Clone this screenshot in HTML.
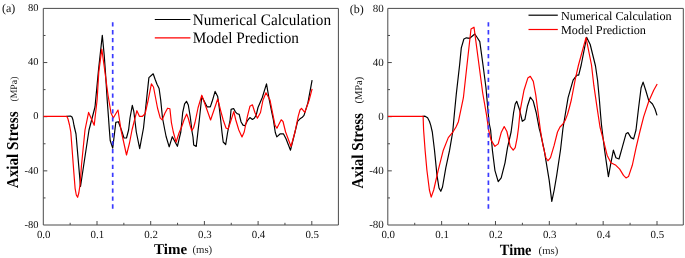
<!DOCTYPE html>
<html><head><meta charset="utf-8"><title>Axial Stress</title>
<style>
html,body{margin:0;padding:0;background:#fff;overflow:hidden}
svg{display:block;filter:blur(0.35px)}
text{font-family:"Liberation Serif","Times New Roman",serif;fill:#111;text-rendering:geometricPrecision}
.tk{font-size:10.5px}
.tag{font-size:12px}
.ax{font-size:15px;font-weight:bold;fill:#000}
.un{font-size:10px;font-weight:normal;fill:#222}
.lg{fill:#000}
</style></head><body>
<svg width="685" height="258" viewBox="0 0 685 258">
<rect width="685" height="258" fill="#fff"/>
<path d="M43.3 8.4H338.4V225.0H43.3Z" fill="none" stroke="#4a4a4a" stroke-width="1"/>
<text x="38.4" y="227.70" text-anchor="end" class="tk" style="font-size:10.5px">-80</text>
<line x1="43.3" y1="197.93" x2="45.5" y2="197.93" stroke="#4a4a4a" stroke-width="1"/>
<line x1="43.3" y1="170.85" x2="47.3" y2="170.85" stroke="#4a4a4a" stroke-width="1"/>
<text x="38.4" y="173.55" text-anchor="end" class="tk" style="font-size:10.5px">-40</text>
<line x1="43.3" y1="143.78" x2="45.5" y2="143.78" stroke="#4a4a4a" stroke-width="1"/>
<line x1="43.3" y1="116.70" x2="47.3" y2="116.70" stroke="#4a4a4a" stroke-width="1"/>
<text x="38.4" y="119.40" text-anchor="end" class="tk" style="font-size:10.5px">0</text>
<line x1="43.3" y1="89.62" x2="45.5" y2="89.62" stroke="#4a4a4a" stroke-width="1"/>
<line x1="43.3" y1="62.55" x2="47.3" y2="62.55" stroke="#4a4a4a" stroke-width="1"/>
<text x="38.4" y="65.25" text-anchor="end" class="tk" style="font-size:10.5px">40</text>
<line x1="43.3" y1="35.48" x2="45.5" y2="35.48" stroke="#4a4a4a" stroke-width="1"/>
<text x="38.4" y="11.10" text-anchor="end" class="tk" style="font-size:10.5px">80</text>
<text x="43.70" y="237.7" text-anchor="middle" class="tk" style="font-size:10.9px">0.0</text>
<line x1="70.15" y1="225.0" x2="70.15" y2="222.8" stroke="#4a4a4a" stroke-width="1"/>
<line x1="97.00" y1="225.0" x2="97.00" y2="221.0" stroke="#4a4a4a" stroke-width="1"/>
<text x="97.40" y="237.7" text-anchor="middle" class="tk" style="font-size:10.9px">0.1</text>
<line x1="123.85" y1="225.0" x2="123.85" y2="222.8" stroke="#4a4a4a" stroke-width="1"/>
<line x1="150.70" y1="225.0" x2="150.70" y2="221.0" stroke="#4a4a4a" stroke-width="1"/>
<text x="151.10" y="237.7" text-anchor="middle" class="tk" style="font-size:10.9px">0.2</text>
<line x1="177.55" y1="225.0" x2="177.55" y2="222.8" stroke="#4a4a4a" stroke-width="1"/>
<line x1="204.40" y1="225.0" x2="204.40" y2="221.0" stroke="#4a4a4a" stroke-width="1"/>
<text x="204.80" y="237.7" text-anchor="middle" class="tk" style="font-size:10.9px">0.3</text>
<line x1="231.25" y1="225.0" x2="231.25" y2="222.8" stroke="#4a4a4a" stroke-width="1"/>
<line x1="258.10" y1="225.0" x2="258.10" y2="221.0" stroke="#4a4a4a" stroke-width="1"/>
<text x="258.50" y="237.7" text-anchor="middle" class="tk" style="font-size:10.9px">0.4</text>
<line x1="284.95" y1="225.0" x2="284.95" y2="222.8" stroke="#4a4a4a" stroke-width="1"/>
<line x1="311.80" y1="225.0" x2="311.80" y2="221.0" stroke="#4a4a4a" stroke-width="1"/>
<text x="312.20" y="237.7" text-anchor="middle" class="tk" style="font-size:10.9px">0.5</text>
<text x="2" y="12" class="tag">(a)</text>
<line x1="154.8" y1="19.5" x2="190.4" y2="19.5" stroke="#000" stroke-width="1.2"/>
<line x1="154.8" y1="37.9" x2="190.4" y2="37.9" stroke="#f00" stroke-width="1.2"/>
<text transform="translate(192.7 24.9) scale(0.952 1)" style="font-size:16px" class="lg">Numerical Calculation</text>
<text transform="translate(192.7 42.9) scale(0.952 1)" style="font-size:16px" class="lg">Model Prediction</text>
<text transform="translate(17.7 188.3) rotate(-90) scale(0.916 1)" class="ax" style="font-size:16.6px">Axial Stress</text>
<text transform="translate(16.6 101.6) rotate(-90)" class="un" style="font-size:9.8px">(MPa)</text>
<text transform="translate(154 253.7) scale(1 1)" class="ax" style="font-size:15px">Time</text>
<text x="192.4" y="253.3" class="un" style="font-size:10.8px">(ms)</text>
<polyline points="66.5,116.3 70.5,116.0 72.0,117.0 73.0,120.0 74.0,125.5 76.0,134.0 80.5,186.5 89.0,130.0 95.0,107.0 98.5,70.0 102.3,35.3 104.2,55.0 105.5,73.0 107.2,100.0 108.4,116.3 109.3,129.0 110.2,140.5 112.7,148.1 114.9,130.0 115.8,122.4 118.4,121.7 121.4,130.0 124.0,138.0 126.5,138.0 128.6,130.0 130.0,118.0 132.3,105.3 133.8,111.5 135.0,121.3 136.3,132.0 139.7,148.7 143.5,128.0 148.9,77.6 153.2,73.8 155.1,79.3 157.0,84.3 159.1,88.5 160.7,100.0 162.5,118.0 164.8,130.0 166.1,136.5 169.2,146.8 172.3,136.7 177.4,146.3 180.8,132.0 182.7,112.5 184.6,103.8 186.5,101.3 188.3,105.0 190.2,116.3 192.1,132.0 193.0,137.0 193.7,144.9 196.2,146.5 197.4,136.5 199.3,120.0 201.8,96.5 207.2,106.9 210.3,106.9 212.2,101.3 215.1,91.4 217.7,96.5 219.3,108.0 220.7,120.0 222.0,132.5 223.2,142.0 225.7,144.5 227.6,132.5 230.1,120.0 231.1,109.4 233.6,108.5 235.4,111.9 237.3,113.8 239.2,114.4 241.1,122.0 243.0,125.1 244.9,125.7 247.4,120.7 249.9,117.6 252.4,119.4 254.3,118.2 256.2,115.1 258.0,107.5 262.2,97.7 266.5,83.9 269.3,100.0 271.8,112.5 273.4,120.0 275.3,132.5 276.8,136.9 280.3,133.8 283.4,133.8 286.0,138.8 290.5,150.2 295.0,132.0 297.6,121.3 300.0,118.8 302.0,117.6 304.0,115.4 307.9,102.8 312.1,80.1" fill="none" stroke="#000" stroke-width="1.18" stroke-linejoin="round"/>
<polyline points="43.5,116.3 66.8,116.3 68.0,119.0 69.5,125.0 70.8,132.0 73.8,172.0 75.1,188.3 76.3,195.0 77.6,197.3 78.8,193.0 80.1,184.5 81.5,165.0 85.0,130.0 88.6,112.4 94.2,125.3 97.1,100.0 98.8,72.0 101.8,49.0 104.0,65.0 108.0,95.0 111.0,113.0 113.3,118.0 118.0,110.0 121.0,130.0 126.5,155.0 129.5,143.0 132.0,130.0 136.9,110.7 139.4,116.3 142.5,116.3 145.1,113.8 148.2,100.0 151.4,83.9 153.5,87.0 157.5,108.0 160.2,117.9 162.2,119.9 165.0,113.0 167.6,108.2 169.9,108.8 171.4,122.6 173.3,132.0 176.1,142.2 179.0,133.0 181.6,127.0 184.0,120.0 186.7,114.1 188.5,119.0 190.0,125.0 191.7,130.6 193.5,128.0 195.0,122.5 198.0,108.0 201.8,95.2 206.0,107.0 210.6,120.0 214.0,110.0 217.7,99.0 221.0,112.0 223.2,120.0 226.0,128.0 228.0,129.0 229.5,125.0 233.8,111.6 235.8,120.0 238.8,130.0 242.0,137.0 244.2,132.0 247.4,116.3 249.9,106.3 252.4,104.8 254.9,112.5 257.4,118.2 260.5,112.5 263.0,100.0 266.0,92.7 270.0,100.0 272.5,112.5 275.0,125.1 276.9,128.2 281.2,119.8 283.0,121.5 285.6,132.0 291.0,146.5 295.0,132.0 298.2,116.3 300.0,110.0 301.5,108.3 304.8,112.4 309.1,100.3 312.1,88.9" fill="none" stroke="#f00" stroke-width="1.18" stroke-linejoin="round"/>
<line x1="112.7" y1="22.2" x2="112.7" y2="208.7" stroke="#3a3aff" stroke-width="1.7" stroke-dasharray="4.3 3.62"/>
<path d="M387.8 8.4H683.3V225.0H387.8Z" fill="none" stroke="#4a4a4a" stroke-width="1"/>
<text x="383.8" y="228.20" text-anchor="end" class="tk" style="font-size:11px">-80</text>
<line x1="387.8" y1="197.93" x2="390.0" y2="197.93" stroke="#4a4a4a" stroke-width="1"/>
<line x1="387.8" y1="170.85" x2="391.8" y2="170.85" stroke="#4a4a4a" stroke-width="1"/>
<text x="383.8" y="174.05" text-anchor="end" class="tk" style="font-size:11px">-40</text>
<line x1="387.8" y1="143.78" x2="390.0" y2="143.78" stroke="#4a4a4a" stroke-width="1"/>
<line x1="387.8" y1="116.70" x2="391.8" y2="116.70" stroke="#4a4a4a" stroke-width="1"/>
<text x="383.8" y="119.90" text-anchor="end" class="tk" style="font-size:11px">0</text>
<line x1="387.8" y1="89.62" x2="390.0" y2="89.62" stroke="#4a4a4a" stroke-width="1"/>
<line x1="387.8" y1="62.55" x2="391.8" y2="62.55" stroke="#4a4a4a" stroke-width="1"/>
<text x="383.8" y="65.75" text-anchor="end" class="tk" style="font-size:11px">40</text>
<line x1="387.8" y1="35.48" x2="390.0" y2="35.48" stroke="#4a4a4a" stroke-width="1"/>
<text x="383.8" y="11.60" text-anchor="end" class="tk" style="font-size:11px">80</text>
<text x="388.20" y="237.7" text-anchor="middle" class="tk" style="font-size:10.9px">0.0</text>
<line x1="414.72" y1="225.0" x2="414.72" y2="222.8" stroke="#4a4a4a" stroke-width="1"/>
<line x1="441.64" y1="225.0" x2="441.64" y2="221.0" stroke="#4a4a4a" stroke-width="1"/>
<text x="442.04" y="237.7" text-anchor="middle" class="tk" style="font-size:10.9px">0.1</text>
<line x1="468.56" y1="225.0" x2="468.56" y2="222.8" stroke="#4a4a4a" stroke-width="1"/>
<line x1="495.48" y1="225.0" x2="495.48" y2="221.0" stroke="#4a4a4a" stroke-width="1"/>
<text x="495.88" y="237.7" text-anchor="middle" class="tk" style="font-size:10.9px">0.2</text>
<line x1="522.40" y1="225.0" x2="522.40" y2="222.8" stroke="#4a4a4a" stroke-width="1"/>
<line x1="549.32" y1="225.0" x2="549.32" y2="221.0" stroke="#4a4a4a" stroke-width="1"/>
<text x="549.72" y="237.7" text-anchor="middle" class="tk" style="font-size:10.9px">0.3</text>
<line x1="576.24" y1="225.0" x2="576.24" y2="222.8" stroke="#4a4a4a" stroke-width="1"/>
<line x1="603.16" y1="225.0" x2="603.16" y2="221.0" stroke="#4a4a4a" stroke-width="1"/>
<text x="603.56" y="237.7" text-anchor="middle" class="tk" style="font-size:10.9px">0.4</text>
<line x1="630.08" y1="225.0" x2="630.08" y2="222.8" stroke="#4a4a4a" stroke-width="1"/>
<line x1="657.00" y1="225.0" x2="657.00" y2="221.0" stroke="#4a4a4a" stroke-width="1"/>
<text x="657.40" y="237.7" text-anchor="middle" class="tk" style="font-size:10.9px">0.5</text>
<text x="349.8" y="12.9" class="tag">(b)</text>
<line x1="528.5" y1="15.2" x2="557.8" y2="15.2" stroke="#000" stroke-width="1.2"/>
<line x1="528.5" y1="29.5" x2="557.8" y2="29.5" stroke="#f00" stroke-width="1.2"/>
<text transform="translate(561 19.5) scale(1 1)" style="font-size:12.2px" class="lg">Numerical Calculation</text>
<text transform="translate(561 34.0) scale(1 1)" style="font-size:12.2px" class="lg">Model Prediction</text>
<text transform="translate(363.3 188.5) rotate(-90) scale(0.897 1)" class="ax" style="font-size:16.6px">Axial Stress</text>
<text transform="translate(362 103.6) rotate(-90)" class="un" style="font-size:10.5px">(MPa)</text>
<text transform="translate(499.8 255.3) scale(0.917 1)" class="ax" style="font-size:15.7px">Time</text>
<text x="538.6" y="254" class="un" style="font-size:10.7px">(ms)</text>
<polyline points="422.5,116.3 425.0,116.2 427.6,117.8 429.5,121.5 430.7,125.1 432.3,132.0 434.5,150.2 437.0,175.4 439.0,188.0 440.8,191.3 442.5,187.0 445.8,167.8 449.6,150.2 452.7,132.0 454.5,112.5 456.3,94.0 459.6,65.0 461.3,47.9 463.9,39.0 466.4,37.8 469.7,38.3 474.8,34.0 477.3,37.8 479.8,41.6 483.0,65.0 486.0,88.0 489.1,123.0 490.6,130.0 492.4,150.2 494.9,170.3 498.2,181.7 501.2,177.9 505.0,162.8 507.5,147.7 511.1,132.0 513.6,112.5 515.2,104.0 516.7,101.3 519.7,110.3 522.3,121.3 524.9,119.4 527.4,106.3 530.3,97.2 533.2,101.0 536.2,112.5 539.3,128.9 540.2,132.0 544.2,150.2 549.2,180.4 551.8,201.4 554.2,190.0 556.7,175.4 560.5,150.0 563.0,128.0 564.5,119.0 568.1,97.7 573.1,80.1 576.9,75.1 578.7,75.1 581.2,65.0 586.6,37.3 590.2,44.5 595.5,66.0 597.6,80.5 599.4,100.0 600.6,115.0 601.5,125.0 604.6,150.2 608.4,176.6 610.9,162.8 613.4,150.2 615.9,157.7 619.0,159.0 622.2,147.7 626.0,133.8 628.0,132.6 631.0,137.6 633.6,138.9 636.0,130.0 638.6,107.8 641.1,87.7 643.1,82.1 645.7,90.2 648.7,100.3 652.5,104.0 655.0,109.0 657.0,115.4" fill="none" stroke="#000" stroke-width="1.18" stroke-linejoin="round"/>
<polyline points="388.0,116.3 423.1,116.3 423.6,130.0 425.1,150.2 426.9,170.3 429.4,190.0 431.2,197.1 433.7,190.0 438.2,170.3 443.3,150.2 448.3,137.6 453.4,131.3 456.0,127.0 458.4,121.7 463.4,97.7 467.0,65.0 471.0,29.0 474.0,27.2 479.0,65.0 482.7,93.0 486.6,115.4 488.6,130.0 491.1,140.1 494.9,146.4 498.2,143.9 501.2,132.6 504.2,126.5 506.9,131.5 510.2,146.4 513.2,150.2 515.2,147.7 517.2,137.6 518.5,128.0 520.2,110.3 524.0,90.2 527.8,78.1 530.3,76.3 533.3,81.4 535.8,95.2 539.1,120.4 540.4,130.0 542.9,145.2 545.9,157.7 547.9,160.8 550.5,157.7 554.2,145.2 557.5,132.0 560.0,127.0 562.5,124.5 565.0,120.7 567.5,114.4 569.4,107.5 571.3,100.0 575.6,77.6 578.5,65.0 586.0,37.6 591.5,65.0 593.8,85.2 597.1,107.8 600.0,127.0 603.4,140.1 607.1,155.2 610.9,162.8 615.9,165.3 619.7,169.1 623.5,175.4 626.0,177.9 628.5,176.6 632.3,165.3 636.1,147.7 639.9,131.5 643.7,116.6 648.7,101.5 653.7,90.2 657.2,84.0" fill="none" stroke="#f00" stroke-width="1.18" stroke-linejoin="round"/>
<line x1="488.4" y1="22.2" x2="488.4" y2="208.7" stroke="#3a3aff" stroke-width="1.7" stroke-dasharray="4.3 3.62"/>
</svg>
</body></html>
